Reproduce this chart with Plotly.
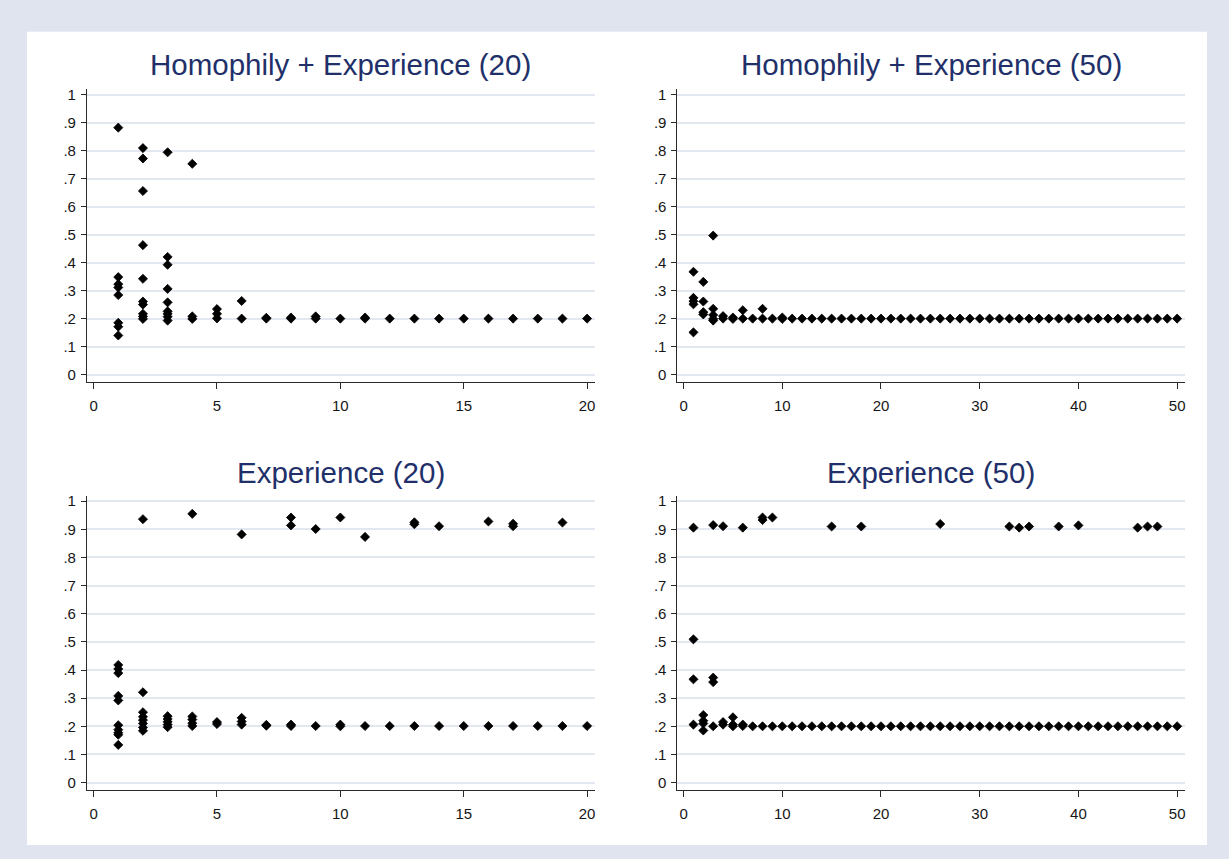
import plotly.graph_objects as go

# ---------------- data ----------------
titles = ["Homophily + Experience (20)", "Homophily + Experience (50)",
          "Experience (20)", "Experience (50)"]

y_tickvals = [0, 0.1, 0.2, 0.3, 0.4, 0.5, 0.6, 0.7, 0.8, 0.9, 1]
y_ticktext = ["0", ".1", ".2", ".3", ".4", ".5", ".6", ".7", ".8", ".9", "1"]
x20_ticks = [0, 5, 10, 15, 20]
x50_ticks = [0, 10, 20, 30, 40, 50]

# Panel A: Homophily + Experience (20)
a_x = [1, 1, 1, 1, 1, 1, 1, 1,
       2, 2, 2, 2, 2, 2, 2, 2, 2, 2,
       3, 3, 3, 3, 3, 3, 3, 3, 3,
       4, 4, 4,
       5, 5, 5,
       6, 6,
       7, 7,
       8, 8,
       9, 9,
       10,
       11, 11,
       12, 13, 14, 15, 16, 17, 18, 19, 20]
a_y = [0.882, 0.349, 0.324, 0.312, 0.285, 0.186, 0.172, 0.141,
       0.809, 0.772, 0.656, 0.463, 0.343, 0.262, 0.251, 0.218, 0.209, 0.200,
       0.794, 0.421, 0.393, 0.307, 0.259, 0.227, 0.218, 0.208, 0.194,
       0.753, 0.209, 0.200,
       0.235, 0.218, 0.202,
       0.264, 0.201,
       0.204, 0.201,
       0.205, 0.201,
       0.209, 0.201,
       0.201,
       0.205, 0.201,
       0.201, 0.201, 0.201, 0.201, 0.201, 0.201, 0.201, 0.201, 0.201]

# Panel B: Homophily + Experience (50)
b_x = [1, 1, 1, 1, 1,
       2, 2, 2, 2,
       3, 3, 3, 3, 3,
       4, 4,
       5, 5,
       6, 6,
       7,
       8, 8,
       9,
       10, 10,
       11, 12, 13, 14, 15, 16, 17, 18, 19, 20,
       21, 22, 23, 24, 25, 26, 27, 28, 29, 30,
       31, 32, 33, 34, 35, 36, 37, 38, 39, 40,
       41, 42, 43, 44, 45, 46, 47, 48, 49, 50]
b_y = [0.368, 0.275, 0.263, 0.252, 0.152,
       0.332, 0.262, 0.224, 0.216,
       0.497, 0.236, 0.214, 0.200, 0.194,
       0.210, 0.201,
       0.205, 0.200,
       0.231, 0.201,
       0.201,
       0.236, 0.201,
       0.201,
       0.205, 0.200,
       0.201, 0.201, 0.201, 0.201, 0.201, 0.201, 0.201, 0.201, 0.201, 0.201,
       0.201, 0.201, 0.201, 0.201, 0.201, 0.201, 0.201, 0.201, 0.201, 0.201,
       0.201, 0.201, 0.201, 0.201, 0.201, 0.201, 0.201, 0.201, 0.201, 0.201,
       0.201, 0.201, 0.201, 0.201, 0.201, 0.201, 0.201, 0.201, 0.201, 0.201]

# Panel C: Experience (20)
c_x = [1, 1, 1, 1, 1, 1, 1, 1, 1, 1,
       2, 2, 2, 2, 2, 2, 2, 2,
       3, 3, 3, 3, 3,
       4, 4, 4, 4, 4,
       5, 5,
       6, 6, 6, 6,
       7, 7,
       8, 8, 8, 8,
       9, 9,
       10, 10, 10,
       11, 11,
       12,
       13, 13, 13,
       14, 14,
       15,
       16, 16,
       17, 17, 17,
       18,
       19, 19,
       20]
c_y = [0.418, 0.404, 0.389, 0.308, 0.292, 0.204, 0.188, 0.177, 0.170, 0.134,
       0.936, 0.321, 0.250, 0.234, 0.222, 0.210, 0.196, 0.184,
       0.236, 0.226, 0.216, 0.206, 0.197,
       0.955, 0.235, 0.224, 0.211, 0.201,
       0.215, 0.208,
       0.882, 0.230, 0.217, 0.206,
       0.205, 0.202,
       0.942, 0.914, 0.206, 0.201,
       0.901, 0.201,
       0.942, 0.206, 0.200,
       0.873, 0.201,
       0.201,
       0.925, 0.918, 0.201,
       0.911, 0.201,
       0.201,
       0.928, 0.201,
       0.920, 0.911, 0.201,
       0.201,
       0.924, 0.201,
       0.201]

# Panel D: Experience (50)
d_x = [1, 1, 1, 1,
       2, 2, 2, 2,
       3, 3, 3, 3,
       4, 4, 4,
       5, 5, 5,
       6, 6, 6,
       7,
       8, 8, 8,
       9, 9,
       10, 11, 12, 13, 14, 15, 15, 16, 17, 18, 18, 19, 20,
       21, 22, 23, 24, 25, 26, 26, 27, 28, 29, 30,
       31, 32, 33, 33, 34, 34, 35, 35, 36, 37, 38, 38, 39, 40, 40,
       41, 42, 43, 44, 45, 46, 46, 47, 47, 48, 48, 49, 50]
d_y = [0.906, 0.509, 0.367, 0.206,
       0.240, 0.220, 0.210, 0.185,
       0.915, 0.373, 0.357, 0.200,
       0.911, 0.215, 0.206,
       0.232, 0.206, 0.200,
       0.906, 0.206, 0.201,
       0.200,
       0.942, 0.933, 0.200,
       0.942, 0.200,
       0.200, 0.200, 0.200, 0.200, 0.200, 0.910, 0.200, 0.200, 0.200, 0.910, 0.200, 0.200, 0.200,
       0.200, 0.200, 0.200, 0.200, 0.200, 0.919, 0.200, 0.200, 0.200, 0.200, 0.200,
       0.200, 0.200, 0.910, 0.200, 0.906, 0.200, 0.910, 0.200, 0.200, 0.200, 0.910, 0.200, 0.200, 0.914, 0.200,
       0.200, 0.200, 0.200, 0.200, 0.200, 0.906, 0.200, 0.910, 0.200, 0.910, 0.200, 0.200, 0.200]

# ---------------- layout geometry (pixels) ----------------
W, H = 1229, 859
def px(v):
    return v / W
def py(v):
    return 1 - v / H

panels = [
    dict(x=a_x, y=a_y, xd=(87, 595), yd=(86, 380.5), xr=[-0.27, 20.3], xt=x20_ticks, title_y=61),
    dict(x=b_x, y=b_y, xd=(678, 1186), yd=(86, 380.5), xr=[-0.62, 50.8], xt=x50_ticks, title_y=61),
    dict(x=c_x, y=c_y, xd=(87, 595), yd=(495, 790.5), xr=[-0.27, 20.3], xt=x20_ticks, title_y=471),
    dict(x=d_x, y=d_y, xd=(678, 1186), yd=(495, 790.5), xr=[-0.62, 50.8], xt=x50_ticks, title_y=471),
]

fig = go.Figure()
FONT = "Liberation Sans, Arial, sans-serif"
GRID = "#e3e7f0"
AXC = "#2a2a2a"
TICKF = dict(family=FONT, size=15, color="#161616")

annotations = []
for i, p in enumerate(panels):
    k = "" if i == 0 else str(i + 1)
    fig.add_trace(go.Scatter(
        x=p["x"], y=p["y"], mode="markers",
        marker=dict(symbol="diamond", size=7, color="black",
                    line=dict(color="black", width=0.8)),
        xaxis="x" + k, yaxis="y" + k, showlegend=False, hoverinfo="x+y"))
    fig.update_layout(**{
        "xaxis" + k: dict(
            domain=[px(p["xd"][0]), px(p["xd"][1])], range=p["xr"],
            anchor="y" + k, tickmode="array", tickvals=p["xt"],
            ticktext=[str(t) for t in p["xt"]],
            showline=True, linecolor=AXC, linewidth=1,
            ticks="outside", ticklen=6, tickcolor=AXC, tickwidth=1,
            showgrid=False, zeroline=False, tickfont=TICKF,
            ticklabelstandoff=4),
        "yaxis" + k: dict(
            domain=[py(p["yd"][1]), py(p["yd"][0])], range=[-0.026, 1.018],
            anchor="x" + k, tickmode="array", tickvals=y_tickvals,
            ticktext=y_ticktext,
            showline=True, linecolor=AXC, linewidth=1,
            ticks="outside", ticklen=5, tickcolor=AXC, tickwidth=1,
            showgrid=True, gridcolor=GRID, gridwidth=1.5,
            zeroline=False, tickfont=TICKF, ticklabelstandoff=2),
    })
    annotations.append(dict(
        text=titles[i], xref="paper", yref="paper",
        x=px((p["xd"][0] + p["xd"][1]) / 2), y=py(p["title_y"]),
        xanchor="center", yanchor="middle", showarrow=False,
        font=dict(family=FONT, size=29.5, color="#22306a")))

fig.update_layout(
    width=W, height=H,
    margin=dict(l=0, r=0, t=0, b=0),
    paper_bgcolor="#dfe4ef",
    plot_bgcolor="white",
    annotations=annotations,
    shapes=[dict(type="rect", xref="paper", yref="paper",
                 x0=px(27), x1=px(1208), y0=py(846), y1=py(28),
                 fillcolor="white", line=dict(width=0), layer="below")],
)

fig.write_html(
    "out.html",
    config={"displayModeBar": False},
    post_script="document.body.style.margin='0';document.body.style.padding='0';"
                "document.body.style.overflow='hidden';"
                "document.documentElement.style.overflow='hidden';",
)
